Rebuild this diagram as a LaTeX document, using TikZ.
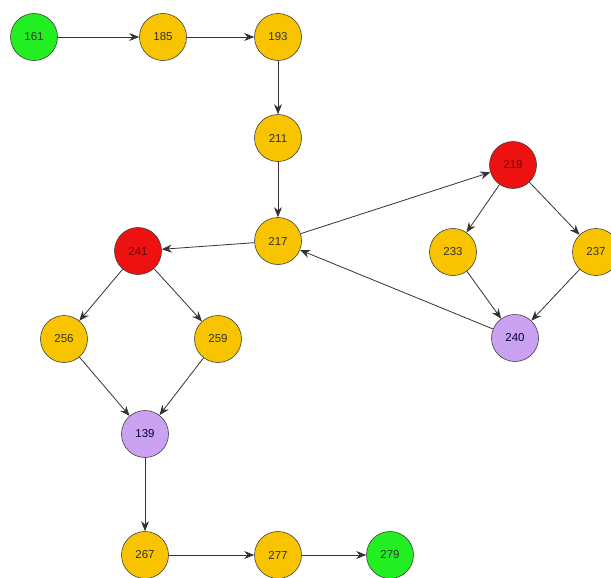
\documentclass[tikz,border=0pt]{standalone}
\usepackage{fontspec}
\setmainfont{Liberation Sans}
\usetikzlibrary{arrows.meta}
\definecolor{cgreen}{HTML}{22EE22}
\definecolor{cyellow}{HTML}{F8C400}
\definecolor{cred}{HTML}{EE1111}
\definecolor{cpurple}{HTML}{CBA2F2}
\definecolor{cline}{HTML}{333333}
\tikzset{
  vtx/.style={circle, draw=black!75, line width=0.6pt, minimum size=47pt, inner sep=0pt,
              font=\fontsize{11.5}{12}\selectfont},
  gvtx/.style={vtx, fill=cgreen, text=black!80},
  yvtx/.style={vtx, fill=cyellow, text=black!80},
  rvtx/.style={vtx, fill=cred, text=red!45!black},
  pvtx/.style={vtx, fill=cpurple, text=black!80!blue},
  edge/.style={draw=cline, line width=0.8pt, -{Stealth[length=10pt,width=8pt]}},
}
\begin{document}
\begin{tikzpicture}[x=1pt,y=-1pt]
\useasboundingbox[fill=white] (0,0) rectangle (611,578);
\begin{scope}
\clip (0,0) rectangle (611,578);
\node[gvtx] (n161) at (34,37) {161};
\node[yvtx] (n185) at (163,37) {185};
\node[yvtx] (n193) at (278,37) {193};
\node[yvtx] (n211) at (278,138) {211};
\node[yvtx] (n217) at (278,241) {217};
\node[rvtx] (n219) at (513,165) {219};
\node[yvtx] (n233) at (453,252) {233};
\node[yvtx] (n237) at (596,252) {237};
\node[pvtx] (n240) at (515,338) {240};
\node[rvtx] (n241) at (138,251) {241};
\node[yvtx] (n256) at (64,339) {256};
\node[yvtx] (n259) at (218,339) {259};
\node[pvtx] (n139) at (145,434) {139};
\node[yvtx] (n267) at (145,555) {267};
\node[yvtx] (n277) at (278,555) {277};
\node[gvtx] (n279) at (390,555) {279};

\path[edge] (n161) -- (n185);
\path[edge] (n185) -- (n193);
\path[edge] (n193) -- (n211);
\path[edge] (n211) -- (n217);
\path[edge] (n217) -- (n219);
\path[edge] (n217) -- (n241);
\path[edge] (n219) -- (n233);
\path[edge] (n219) -- (n237);
\path[edge] (n233) -- (n240);
\path[edge] (n237) -- (n240);
\path[edge] (n240) -- (n217);
\path[edge] (n241) -- (n256);
\path[edge] (n241) -- (n259);
\path[edge] (n256) -- (n139);
\path[edge] (n259) -- (n139);
\path[edge] (n139) -- (n267);
\path[edge] (n267) -- (n277);
\path[edge] (n277) -- (n279);
\end{scope}
\end{tikzpicture}
\end{document}
